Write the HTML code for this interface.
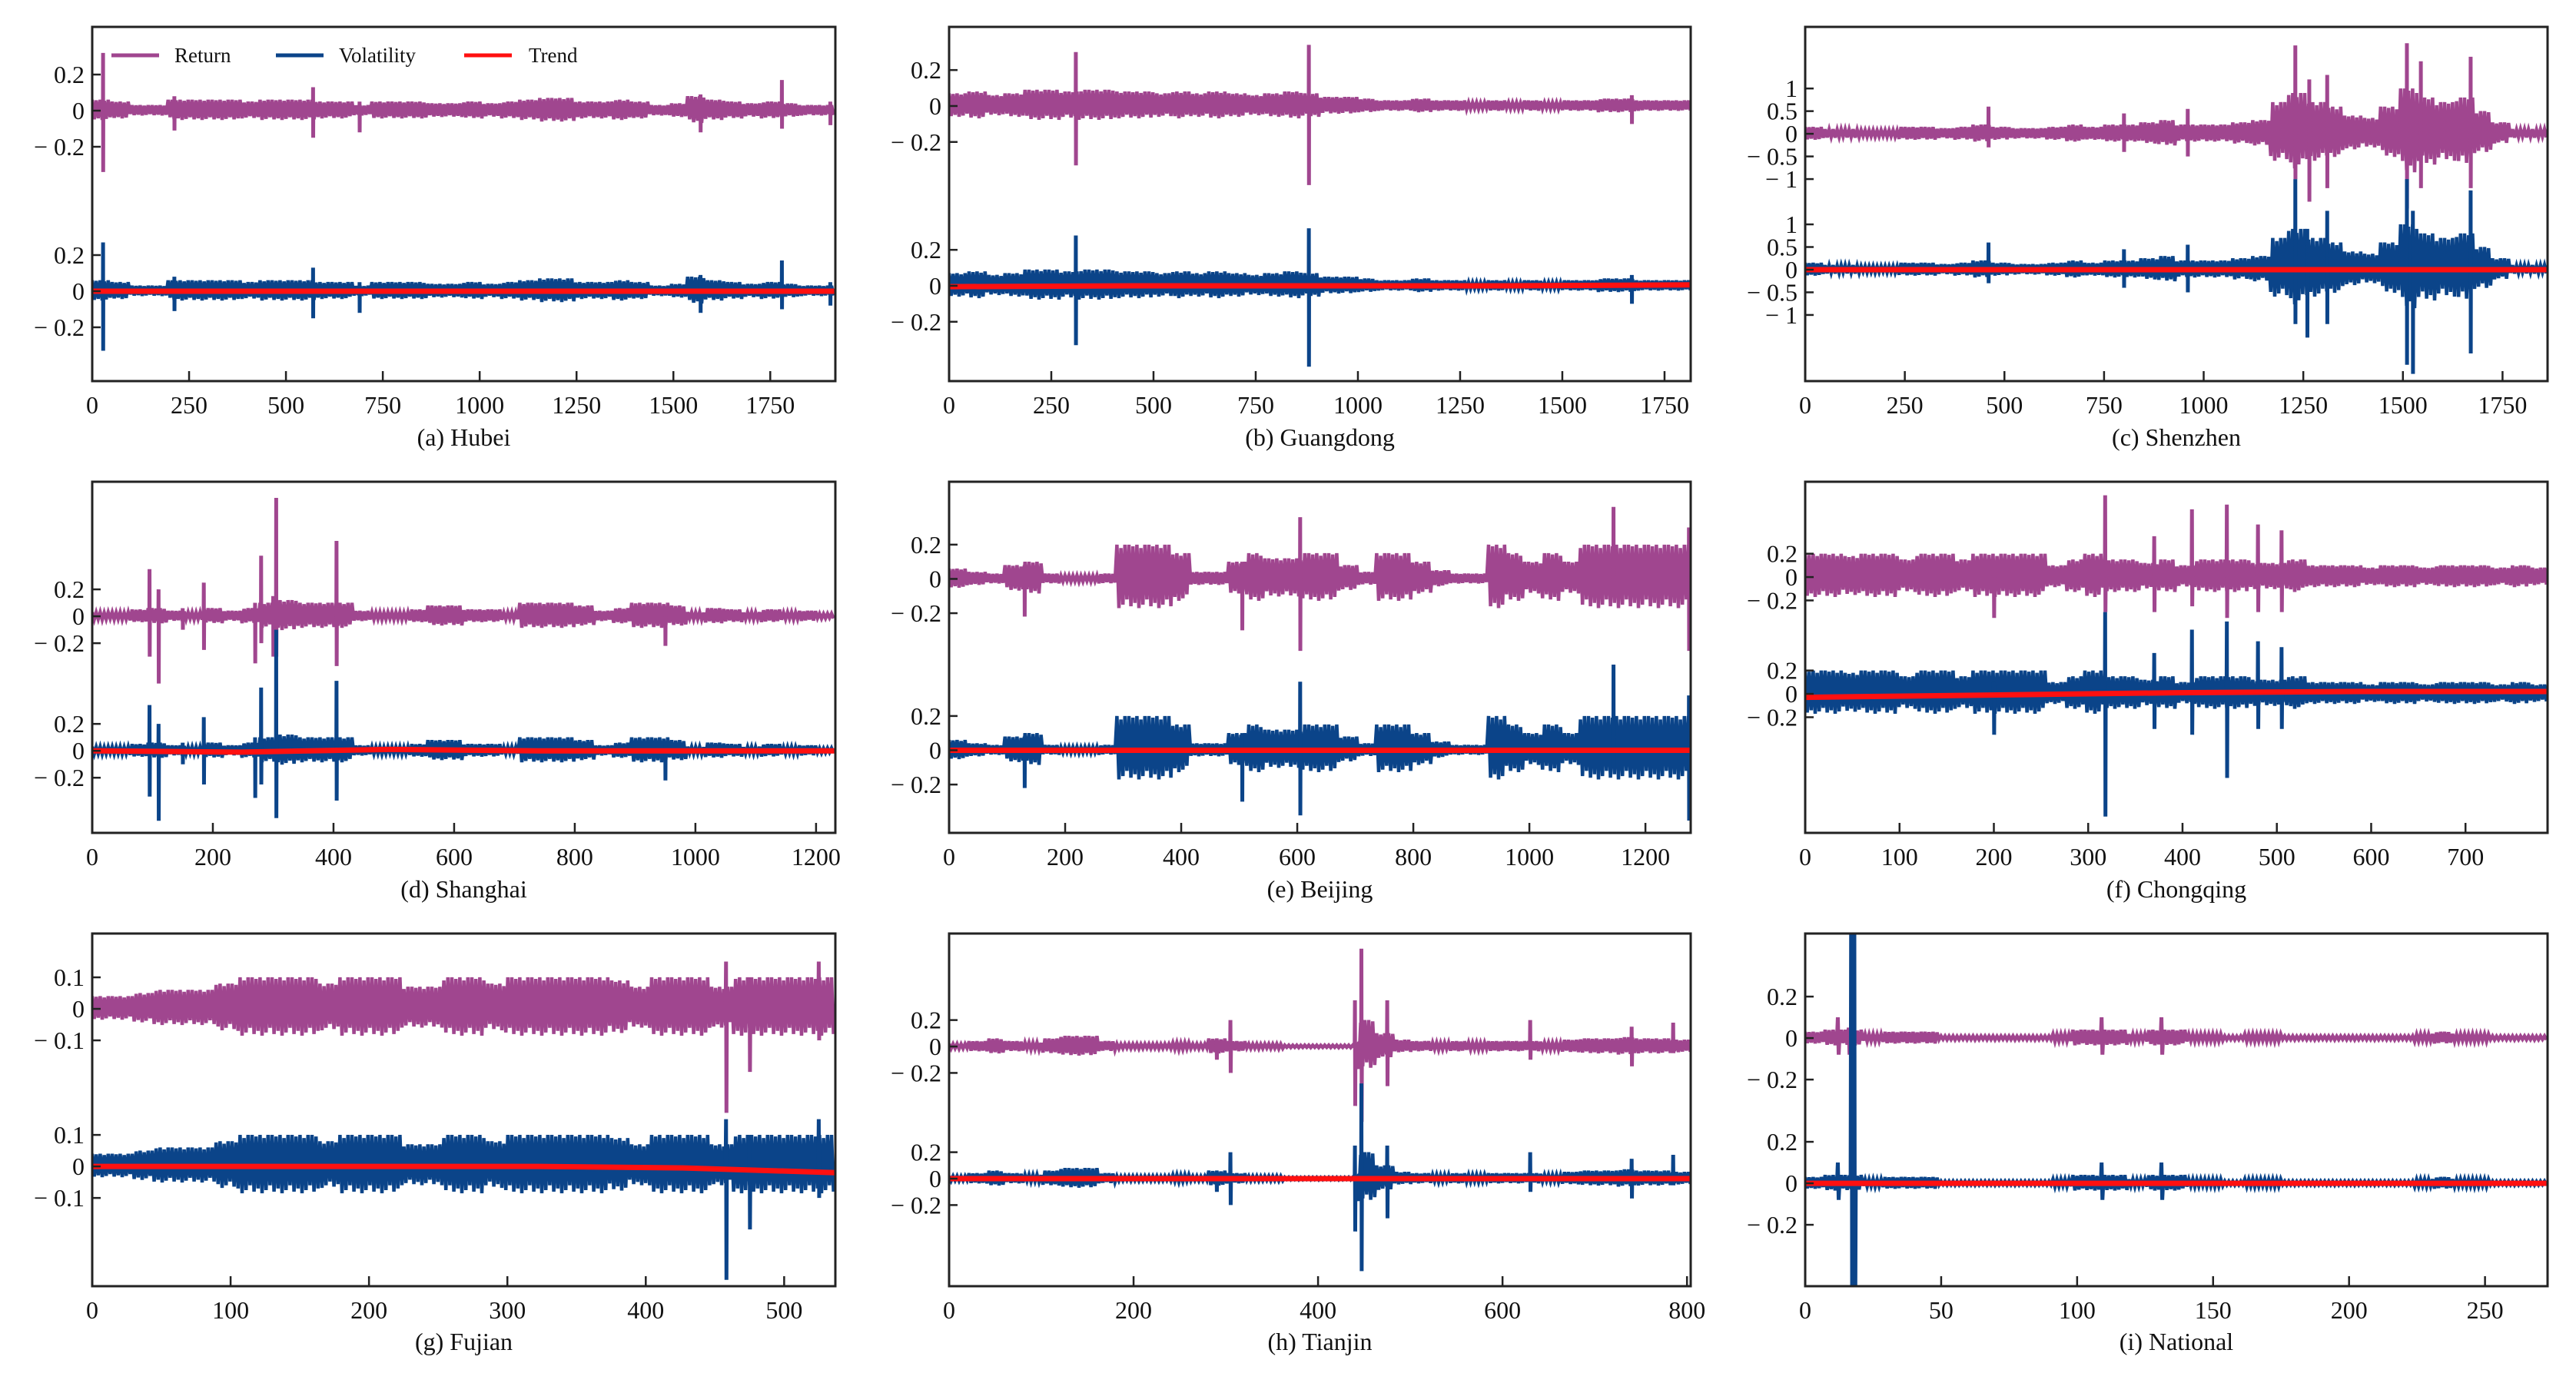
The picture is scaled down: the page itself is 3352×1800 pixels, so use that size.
<!DOCTYPE html>
<html><head><meta charset="utf-8"><title>Return / Volatility / Trend</title>
<style>
html,body{margin:0;padding:0;background:#fff;}
svg{display:block;font-family:"Liberation Serif",serif;}
</style></head>
<body>
<svg id="fig" width="3352" height="1800" viewBox="0 0 3352 1800" xmlns="http://www.w3.org/2000/svg"></svg>
<script>
// ---------- DATA (band half-amplitude per bin, spikes [x, high, low], trend samples) ----------
const retAmpHubei = [0.06,0.05,0.03,0.03,0.06,0.06,0.06,0.06,0.05,0.06,0.06,0.06,0.05,0.05,0.03,0.05,0.05,0.05,0.04,0.04,0.05,0.04,0.05,0.06,0.07,0.07,0.05,0.05,0.06,0.05,0.03,0.04,0.08,0.06,0.05,0.04,0.05,0.04,0.03,0.03];
const volAmpHubei = [0.06,0.05,0.03,0.03,0.06,0.06,0.06,0.06,0.05,0.06,0.06,0.06,0.05,0.05,0.03,0.05,0.05,0.05,0.04,0.04,0.05,0.04,0.05,0.06,0.07,0.07,0.05,0.05,0.06,0.05,0.03,0.04,0.08,0.06,0.05,0.04,0.05,0.04,0.03,0.03];
const retSpikesHubei = [[28,0.32,-0.34],[212,0.08,-0.11],[570,0.13,-0.15],[690,0.05,-0.12],[1570,0.09,-0.12],[1780,0.17,-0.1],[1905,0.05,-0.08]];
const volSpikesHubei = [[28,0.27,-0.33],[212,0.08,-0.11],[570,0.13,-0.15],[690,0.05,-0.12],[1570,0.09,-0.12],[1780,0.17,-0.1],[1905,0.05,-0.08]];
const trendHubei = [0,0,0,0,0];

const retAmpGuangdong = [0.07,0.08,0.06,0.07,0.09,0.09,0.08,0.09,0.09,0.08,0.08,0.07,0.08,0.07,0.08,0.07,0.06,0.07,0.08,0.07,0.05,0.05,0.04,0.03,0.03,0.04,0.03,0.03,0.02,0.03,0.02,0.03,0.02,0.03,0.03,0.04,0.04,0.03,0.03,0.03];
const volAmpGuangdong = [0.07,0.08,0.06,0.07,0.09,0.09,0.08,0.09,0.09,0.08,0.08,0.07,0.08,0.07,0.08,0.07,0.06,0.07,0.08,0.07,0.05,0.05,0.04,0.03,0.03,0.04,0.03,0.03,0.02,0.03,0.02,0.03,0.02,0.03,0.03,0.04,0.04,0.03,0.03,0.03];
const retSpikesGuangdong = [[310,0.3,-0.33],[880,0.34,-0.44],[1670,0.06,-0.1]];
const volSpikesGuangdong = [[310,0.28,-0.33],[880,0.32,-0.45],[1670,0.06,-0.1]];
const trendGuangdong = [-0.005,0,0,0,0.005];

const retAmpShenzhen = [0.15,0.1,0.1,0.08,0.08,0.15,0.15,0.12,0.15,0.2,0.15,0.12,0.12,0.15,0.2,0.15,0.2,0.2,0.25,0.3,0.2,0.2,0.2,0.25,0.3,0.7,0.9,0.7,0.6,0.4,0.35,0.6,1.0,0.8,0.7,0.8,0.5,0.25,0.1,0.1];
const volAmpShenzhen = [0.15,0.1,0.1,0.08,0.08,0.15,0.15,0.12,0.15,0.2,0.15,0.12,0.12,0.15,0.2,0.15,0.2,0.2,0.25,0.3,0.2,0.2,0.2,0.25,0.3,0.7,0.9,0.7,0.6,0.4,0.35,0.6,1.0,0.8,0.7,0.8,0.5,0.25,0.1,0.1];
const retSpikesShenzhen = [[460,0.6,-0.3],[800,0.45,-0.4],[960,0.55,-0.5],[1230,1.95,-1.0],[1265,1.2,-1.5],[1310,1.3,-1.2],[1510,2.0,-1.65],[1545,1.6,-1.2],[1670,1.7,-1.2]];
const volSpikesShenzhen = [[460,0.6,-0.3],[800,0.45,-0.4],[960,0.55,-0.5],[1230,2.0,-1.2],[1260,0.9,-1.5],[1310,1.3,-1.2],[1510,2.0,-2.1],[1525,1.3,-2.3],[1670,1.75,-1.85]];
const trendShenzhen = [0,0,0,0,0];

const retAmpShanghai = [0.03,0.03,0.05,0.06,0.04,0.03,0.06,0.04,0.06,0.1,0.12,0.1,0.1,0.1,0.04,0.03,0.03,0.05,0.08,0.08,0.05,0.05,0.03,0.1,0.1,0.1,0.08,0.04,0.06,0.1,0.1,0.08,0.03,0.06,0.05,0.03,0.05,0.03,0.04,0.02];
const volAmpShanghai = [0.03,0.03,0.05,0.06,0.04,0.03,0.06,0.04,0.06,0.1,0.12,0.1,0.1,0.1,0.04,0.03,0.03,0.05,0.08,0.08,0.05,0.05,0.03,0.1,0.1,0.1,0.08,0.04,0.06,0.1,0.1,0.08,0.03,0.06,0.05,0.03,0.05,0.03,0.04,0.02];
const retSpikesShanghai = [[95,0.35,-0.3],[110,0.2,-0.5],[150,0.06,-0.1],[185,0.25,-0.25],[270,0.1,-0.35],[280,0.45,-0.2],[300,0.15,-0.3],[305,0.88,-0.3],[405,0.56,-0.37],[950,0.06,-0.22]];
const volSpikesShanghai = [[95,0.34,-0.34],[110,0.2,-0.52],[150,0.06,-0.1],[185,0.25,-0.25],[270,0.1,-0.35],[280,0.47,-0.25],[305,0.9,-0.5],[405,0.52,-0.37],[950,0.06,-0.22]];
const trendShanghai = [0,-0.01,0.01,0,0,0];

const retAmpBeijing = [0.06,0.04,0.03,0.08,0.1,0.03,0.02,0.02,0.03,0.2,0.2,0.2,0.15,0.04,0.04,0.1,0.15,0.12,0.12,0.15,0.15,0.08,0.04,0.15,0.15,0.1,0.05,0.03,0.03,0.2,0.15,0.1,0.15,0.1,0.2,0.2,0.2,0.2,0.2,0.2];
const volAmpBeijing = [0.06,0.04,0.03,0.08,0.1,0.03,0.02,0.02,0.03,0.2,0.2,0.2,0.15,0.04,0.04,0.1,0.15,0.12,0.12,0.15,0.15,0.08,0.04,0.15,0.15,0.1,0.05,0.03,0.03,0.2,0.15,0.1,0.15,0.1,0.2,0.2,0.2,0.2,0.2,0.2];
const retSpikesBeijing = [[130,0.08,-0.22],[505,0.1,-0.3],[605,0.36,-0.42],[1145,0.42,-0.1],[1275,0.3,-0.42]];
const volSpikesBeijing = [[130,0.08,-0.22],[505,0.1,-0.3],[605,0.4,-0.38],[1145,0.5,-0.1],[1275,0.32,-0.41]];
const trendBeijing = [0,0,0,0,0];

const retAmpChongqing = [0.2,0.2,0.18,0.2,0.2,0.15,0.2,0.2,0.15,0.2,0.2,0.2,0.2,0.1,0.15,0.2,0.15,0.15,0.12,0.15,0.1,0.15,0.15,0.15,0.12,0.12,0.15,0.1,0.1,0.1,0.08,0.1,0.1,0.08,0.1,0.1,0.1,0.08,0.1,0.08];
const volAmpChongqing = [0.2,0.2,0.18,0.2,0.2,0.15,0.2,0.2,0.15,0.2,0.2,0.2,0.2,0.1,0.15,0.2,0.15,0.15,0.12,0.15,0.1,0.15,0.15,0.15,0.12,0.12,0.15,0.1,0.1,0.1,0.08,0.1,0.1,0.08,0.1,0.1,0.1,0.08,0.1,0.08];
const retSpikesChongqing = [[200,0.1,-0.35],[318,0.7,-0.3],[370,0.35,-0.3],[410,0.58,-0.25],[447,0.62,-0.35],[480,0.45,-0.3],[505,0.4,-0.3]];
const volSpikesChongqing = [[200,0.1,-0.35],[318,0.7,-1.05],[370,0.35,-0.3],[410,0.55,-0.35],[447,0.62,-0.72],[480,0.45,-0.3],[505,0.4,-0.3]];
const trendChongqing = [-0.03,-0.01,0.01,0.02,0.02];

const retAmpFujian = [0.04,0.04,0.05,0.06,0.06,0.06,0.08,0.1,0.1,0.1,0.1,0.08,0.1,0.1,0.1,0.07,0.07,0.1,0.1,0.08,0.1,0.1,0.1,0.1,0.1,0.09,0.07,0.1,0.1,0.1,0.07,0.1,0.1,0.1,0.1,0.1];
const volAmpFujian = [0.04,0.04,0.05,0.06,0.06,0.06,0.08,0.1,0.1,0.1,0.1,0.08,0.1,0.1,0.1,0.07,0.07,0.1,0.1,0.08,0.1,0.1,0.1,0.1,0.1,0.09,0.07,0.1,0.1,0.1,0.07,0.1,0.1,0.1,0.1,0.1];
const retSpikesFujian = [[458,0.15,-0.33],[475,0.1,-0.2],[525,0.15,-0.1]];
const volSpikesFujian = [[458,0.15,-0.36],[475,0.1,-0.2],[525,0.15,-0.1]];
const trendFujian = [0,0,0,0,-0.005,-0.02];

const retAmpTianjin = [0.02,0.04,0.06,0.04,0.03,0.06,0.08,0.08,0.04,0.02,0.02,0.02,0.03,0.02,0.06,0.04,0.02,0.02,0.01,0.01,0.01,0.01,0.2,0.1,0.05,0.04,0.03,0.04,0.03,0.04,0.04,0.04,0.03,0.05,0.06,0.06,0.07,0.06,0.06,0.05];
const volAmpTianjin = [0.02,0.04,0.06,0.04,0.03,0.06,0.08,0.08,0.04,0.02,0.02,0.02,0.03,0.02,0.06,0.04,0.02,0.02,0.01,0.01,0.01,0.01,0.2,0.1,0.05,0.04,0.03,0.04,0.03,0.04,0.04,0.04,0.03,0.05,0.06,0.06,0.07,0.06,0.06,0.05];
const retSpikesTianjin = [[290,0.02,-0.1],[305,0.2,-0.2],[440,0.35,-0.45],[447,0.74,-0.57],[475,0.35,-0.3],[630,0.2,-0.1],[740,0.15,-0.15],[785,0.18,-0.05]];
const volSpikesTianjin = [[290,0.02,-0.1],[305,0.2,-0.2],[440,0.25,-0.4],[447,0.72,-0.7],[475,0.25,-0.3],[630,0.2,-0.1],[740,0.15,-0.15],[785,0.18,-0.05]];
const trendTianjin = [0,0,0,0,0];

const retAmpNational = [0.03,0.04,0.04,0.02,0.03,0.03,0.03,0.01,0.01,0.01,0.01,0.01,0.01,0.02,0.04,0.04,0.04,0.02,0.04,0.04,0.02,0.02,0.01,0.02,0.02,0.01,0.01,0.01,0.01,0.01,0.01,0.01,0.02,0.03,0.02,0.02,0.01,0.01,0.01];
const volAmpNational = [0.03,0.04,0.04,0.02,0.03,0.03,0.03,0.01,0.01,0.01,0.01,0.01,0.01,0.02,0.04,0.04,0.04,0.02,0.04,0.04,0.02,0.02,0.01,0.02,0.02,0.01,0.01,0.01,0.01,0.01,0.01,0.01,0.02,0.03,0.02,0.02,0.01,0.01,0.01];
const retSpikesNational = [[12,0.1,-0.08],[16,0.05,-0.08],[109,0.1,-0.08],[131,0.1,-0.08]];
const volSpikesNational = [[12,0.1,-0.08],[17,2.0,-1.0],[18,2.0,-1.0],[109,0.1,-0.08],[131,0.1,-0.08]];
const trendNational = [0,0,0,0,0];

const panelTitles = ["(a) Hubei","(b) Guangdong","(c) Shenzhen","(d) Shanghai","(e) Beijing","(f) Chongqing","(g) Fujian","(h) Tianjin","(i) National"];
const xMaxes = [1918,1814,1863,1232,1278,787,537,804,273];
const xTickLabels = [
 [0,250,500,750,1000,1250,1500,1750],[0,250,500,750,1000,1250,1500,1750],[0,250,500,750,1000,1250,1500,1750],
 [0,200,400,600,800,1000,1200],[0,200,400,600,800,1000,1200],[0,100,200,300,400,500,600,700],
 [0,100,200,300,400,500],[0,200,400,600,800],[0,50,100,150,200,250]];
const yTickLabels = [[0.2,0,-0.2],[0.2,0,-0.2],[1,0.5,0,-0.5,-1],[0.2,0,-0.2],[0.2,0,-0.2],[0.2,0,-0.2],[0.1,0,-0.1],[0.2,0,-0.2],[0.2,0,-0.2]];
const returnOffsets = [1,1,3,1,1,1,0.5,1,0.7];
const yMins = [-0.498,-0.53,-2.46,-0.61,-0.482,-1.19,-0.38,-0.814,-0.496];
const yMaxes = [1.464,1.44,5.36,2.0,1.567,1.816,0.739,1.855,1.204];

const retAmps=[retAmpHubei,retAmpGuangdong,retAmpShenzhen,retAmpShanghai,retAmpBeijing,retAmpChongqing,retAmpFujian,retAmpTianjin,retAmpNational];
const volAmps=[volAmpHubei,volAmpGuangdong,volAmpShenzhen,volAmpShanghai,volAmpBeijing,volAmpChongqing,volAmpFujian,volAmpTianjin,volAmpNational];
const retSpikes=[retSpikesHubei,retSpikesGuangdong,retSpikesShenzhen,retSpikesShanghai,retSpikesBeijing,retSpikesChongqing,retSpikesFujian,retSpikesTianjin,retSpikesNational];
const volSpikes=[volSpikesHubei,volSpikesGuangdong,volSpikesShenzhen,volSpikesShanghai,volSpikesBeijing,volSpikesChongqing,volSpikesFujian,volSpikesTianjin,volSpikesNational];
const trends=[trendHubei,trendGuangdong,trendShenzhen,trendShanghai,trendBeijing,trendChongqing,trendFujian,trendTianjin,trendNational];

// ---------- LAYOUT ----------
const colX=[[120,1087],[1235,2200],[2349,3315]];
const rowY=[[35,496],[627,1084],[1215,1674]];
const titleY=[580,1168,1757];
const RET_C="#a0468f", VOL_C="#0b4489", TR_C="#ff1010";
const NS="http://www.w3.org/2000/svg";
const svg=document.getElementById('fig');
function mk(tag,attrs,parent){const e=document.createElementNS(NS,tag);for(const k in attrs)e.setAttribute(k,attrs[k]);(parent||svg).appendChild(e);return e;}
function fmt(v){ if(v===0) return "0"; const s=String(Math.abs(v)); return v<0?"\u2212 "+s:s; }
const pattern=[1,0.8,0.95,0.7,1,0.85,0.9,0.75,1,0.6];

for(let p=0;p<9;p++){
  const [x0,x1]=colX[p%3], [y0,y1]=rowY[Math.floor(p/3)];
  const xmax=xMaxes[p], ymin=yMins[p], ymax=yMaxes[p], off=returnOffsets[p];
  const X=v=>x0+(v/xmax)*(x1-x0);
  const Y=v=>y1-(v-ymin)/(ymax-ymin)*(y1-y0);
  const g=mk('g',{});
  
  
  const cid='clip'+p;
  const cp=mk('clipPath',{id:cid},g); mk('rect',{x:x0,y:y0,width:x1-x0,height:y1-y0},cp);
  const plot=mk('g',{'clip-path':'url(#'+cid+')'},g);

  function series(amps,spikes,base,color,name){
    const n=amps.length, bw=xmax/n;
    const stepPx=2.6, pxPerUnit=(x1-x0)/xmax;
    let pts=[], k=0, sign=1;
    const total=Math.floor((x1-x0)/stepPx);
    for(let i=0;i<=total;i++){
      const xv=i*stepPx/pxPerUnit;
      const b=Math.min(n-1,Math.floor(xv/bw));
      const a=amps[b]*pattern[k%pattern.length];
      pts.push(X(xv).toFixed(1)+','+Y(base+sign*a).toFixed(1));
      sign=-sign; k++;
    }
    const pl=mk('polyline',{points:pts.join(' '),fill:'none',stroke:color,'stroke-width':4.5,'stroke-linejoin':'miter'},plot);
    
    
    spikes.forEach(s=>{
      const sp=mk('polyline',{points:[X(s[0]-0.3)+','+Y(base),X(s[0])+','+Y(base+s[1]),X(s[0]+0.3)+','+Y(base+s[2]),X(s[0]+0.6)+','+Y(base)].join(' '),fill:'none',stroke:color,'stroke-width':5},plot);
      
      
    });
  }
  series(retAmps[p],retSpikes[p],off,RET_C,'return');
  series(volAmps[p],volSpikes[p],0,VOL_C,'volatility');
  const tr=trends[p];
  const tp=tr.map((v,i)=>X(i/(tr.length-1)*xmax).toFixed(1)+','+Y(v).toFixed(1)).join(' ');
  const tl=mk('polyline',{points:tp,fill:'none',stroke:TR_C,'stroke-width':7},plot);
  
  

  const fr=mk('rect',{x:x0,y:y0,width:x1-x0,height:y1-y0,fill:'none',stroke:'#222','stroke-width':3},g);
  
  
  xTickLabels[p].forEach(t=>{
    const xx=X(t);
    if(t>0) mk('line',{x1:xx,y1:y1,x2:xx,y2:y1-13,stroke:'#222','stroke-width':2.5},g);
    const tx=mk('text',{x:xx,y:y1+42,'font-size':32,'text-anchor':'middle',fill:'#111'},g);
    tx.textContent=t;
    
    
  });
  [off,0].forEach(base=>{
    yTickLabels[p].forEach(t=>{
      const yy=Y(base+t);
      mk('line',{x1:x0,y1:yy,x2:x0+11,y2:yy,stroke:'#222','stroke-width':2.5},g);
      const ty=mk('text',{x:x0-10,y:yy+11,'font-size':32,'text-anchor':'end',fill:'#111'},g);
      ty.textContent=fmt(t);
      
      
    });
  });
  const tt=mk('text',{x:(x0+x1)/2,y:titleY[Math.floor(p/3)],'font-size':32,'text-anchor':'middle',fill:'#111'},g);
  tt.textContent=panelTitles[p];
  
  
}

const lg=mk('g',{});


const legendItems=[["Return",RET_C,145,227],["Volatility",VOL_C,359,441],["Trend",TR_C,604,688]];
legendItems.forEach(it=>{
  const ge=mk('g',{},lg);
  
  
  mk('line',{x1:it[2],y1:72,x2:it[2]+62,y2:72,stroke:it[1],'stroke-width':5},ge);
  const t=mk('text',{x:it[3],y:81,'font-size':27,fill:'#111'},ge);
  t.textContent=it[0];
});
</script>
</body></html>
